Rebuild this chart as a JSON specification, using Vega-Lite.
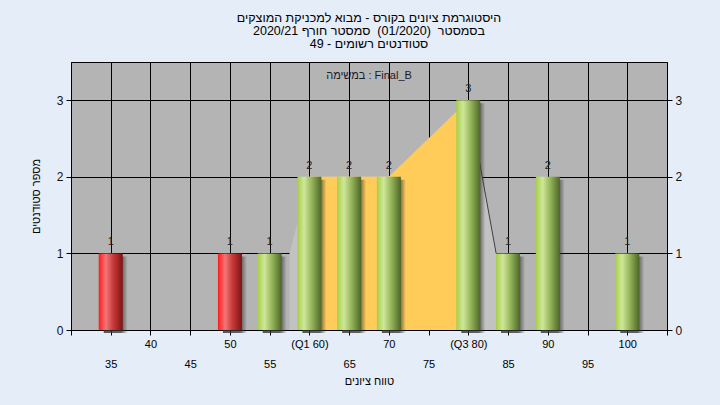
{
  "$schema": "https://vega.github.io/schema/vega-lite/v6.json",
  "width": 596,
  "height": 268,
  "autosize": {"type": "none"},
  "padding": {"left": 71, "top": 62, "right": 53, "bottom": 75},
  "background": "#e4edf8",
  "config": {
    "view": {"fill": "#b4b4b4", "stroke": "#000000", "strokeWidth": 1},
    "font": "Liberation Sans"
  },
  "title": {
    "text": ["היסטוגרמת ציונים בקורס - מבוא למכניקת המוצקים", "בסמסטר \u00a0(01/2020)\u00a0 סמסטר חורף 2020/21", "סטודנטים רשומים - 49"],
    "fontSize": 12.5,
    "fontWeight": "normal",
    "color": "#000000",
    "lineHeight": 13,
    "offset": 12,
    "anchor": "middle",
    "frame": "group"
  },
  "datasets": {
    "bars": [
      {"grade": 35, "count": 1, "result": "fail"},
      {"grade": 50, "count": 1, "result": "fail"},
      {"grade": 55, "count": 1, "result": "pass"},
      {"grade": 60, "count": 2, "result": "pass"},
      {"grade": 65, "count": 2, "result": "pass"},
      {"grade": 70, "count": 2, "result": "pass"},
      {"grade": 80, "count": 3, "result": "pass"},
      {"grade": 85, "count": 1, "result": "pass"},
      {"grade": 90, "count": 2, "result": "pass"},
      {"grade": 100, "count": 1, "result": "pass"}
    ],
    "poly": [
      {"grade": 57.5, "count": 1},
      {"grade": 60, "count": 2},
      {"grade": 65, "count": 2},
      {"grade": 70, "count": 2},
      {"grade": 80, "count": 3},
      {"grade": 83.5, "count": 1}
    ],
    "band": [
      {"grade": 60, "count": 2},
      {"grade": 65, "count": 2},
      {"grade": 70, "count": 2},
      {"grade": 80, "count": 3}
    ],
    "edge": [
      {"grade": 80, "count": 3},
      {"grade": 83.5, "count": 1}
    ],
    "note": [
      {"grade": 67.5, "count": 3.32, "label": "במשימה : Final_B"}
    ]
  },
  "layer": [
    {
      "data": {"name": "poly"},
      "mark": {"type": "area", "color": "#c2c2c2", "opacity": 1},
      "encoding": {
        "x": {
          "field": "grade", "type": "quantitative",
          "scale": {"domain": [30, 105], "nice": false, "zero": false, "padding": 0},
          "axis": {
            "orient": "bottom",
            "values": [30, 35, 40, 45, 50, 55, 60, 65, 70, 75, 80, 85, 90, 95, 100, 105],
            "grid": true, "gridColor": "#000000", "gridOpacity": 1,
            "domainColor": "#000000", "tickColor": "#000000", "tickSize": 5,
            "labelExpr": "datum.value % 10 != 0 || datum.value == 30 ? '' : datum.value == 60 ? '(Q1 60)' : datum.value == 80 ? '(Q3 80)' : datum.label",
            "labelFontSize": 11, "labelColor": "#000000", "labelPadding": 3,
            "labelFlush": false, "labelOverlap": false,
            "title": null
          }
        },
        "y": {
          "field": "count", "type": "quantitative",
          "scale": {"domain": [0, 3.5], "nice": false},
          "axis": {
            "orient": "left",
            "values": [0, 1, 2, 3],
            "grid": true, "gridColor": "#000000", "gridOpacity": 1,
            "domainColor": "#000000", "tickColor": "#000000", "tickSize": 5,
            "labelFontSize": 12, "labelColor": "#111111", "labelPadding": 3,
            "title": "מספר סטודנטים", "titleFontSize": 11, "titleFontWeight": "normal", "titleColor": "#000000", "titlePadding": 15
          }
        }
      }
    },
    {
      "data": {"name": "band"},
      "mark": {"type": "area", "color": "#ffcc5a", "opacity": 1},
      "encoding": {
        "x": {
          "field": "grade", "type": "quantitative",
          "axis": {
            "orient": "bottom",
            "values": [35, 45, 55, 65, 75, 85, 95],
            "grid": false, "ticks": false, "tickSize": 0, "domain": false,
            "labelFontSize": 11, "labelColor": "#000000", "labelPadding": 28,
            "labelFlush": false, "labelOverlap": false,
            "title": "טווח ציונים", "titleFontSize": 11, "titleFontWeight": "normal", "titleColor": "#000000", "titlePadding": 6
          }
        },
        "y": {
          "field": "count", "type": "quantitative",
          "axis": {
            "orient": "right",
            "values": [0, 1, 2, 3],
            "grid": false,
            "domainColor": "#000000", "tickColor": "#000000", "tickSize": 5,
            "labelFontSize": 12, "labelColor": "#111111", "labelPadding": 3,
            "title": null
          }
        }
      }
    },
    {
      "data": {"name": "edge"},
      "mark": {"type": "line", "color": "#404040", "strokeWidth": 1},
      "encoding": {
        "x": {"field": "grade", "type": "quantitative", "axis": null},
        "y": {"field": "count", "type": "quantitative", "axis": null}
      }
    },
    {
      "data": {"name": "bars"},
      "mark": {
        "type": "bar", "size": 24, "xOffset": 5, "yOffset": 3,
        "color": {"gradient": "linear", "x1": 0, "x2": 1, "y1": 0, "y2": 0,
          "stops": [
            {"offset": 0, "color": "rgba(50,50,50,0.8)"},
            {"offset": 0.72, "color": "rgba(50,50,50,0.75)"},
            {"offset": 1, "color": "rgba(50,50,50,0)"}
          ]}
      },
      "encoding": {
        "x": {"field": "grade", "type": "quantitative", "axis": null},
        "y": {"field": "count", "type": "quantitative", "axis": null}
      }
    },
    {
      "data": {"name": "bars"},
      "transform": [{"filter": "datum.result == 'fail'"}],
      "mark": {
        "type": "bar", "size": 24,
        "color": {"gradient": "linear", "x1": 0, "x2": 1, "y1": 0, "y2": 0,
          "stops": [
            {"offset": 0, "color": "#ff1c1c"},
            {"offset": 0.3, "color": "#f27676"},
            {"offset": 0.6, "color": "#c83a3a"},
            {"offset": 1, "color": "#801212"}
          ]}
      },
      "encoding": {
        "x": {"field": "grade", "type": "quantitative", "axis": null},
        "y": {"field": "count", "type": "quantitative", "axis": null}
      }
    },
    {
      "data": {"name": "bars"},
      "transform": [{"filter": "datum.result == 'pass'"}],
      "mark": {
        "type": "bar", "size": 24,
        "color": {"gradient": "linear", "x1": 0, "x2": 1, "y1": 0, "y2": 0,
          "stops": [
            {"offset": 0, "color": "#a6cf45"},
            {"offset": 0.28, "color": "#cfe79a"},
            {"offset": 0.6, "color": "#95b55a"},
            {"offset": 1, "color": "#4c6628"}
          ]}
      },
      "encoding": {
        "x": {"field": "grade", "type": "quantitative", "axis": null},
        "y": {"field": "count", "type": "quantitative", "axis": null}
      }
    },
    {
      "data": {"name": "bars"},
      "mark": {"type": "text", "fontSize": 11, "color": "#222222", "baseline": "bottom", "dy": -6},
      "encoding": {
        "x": {"field": "grade", "type": "quantitative", "axis": null},
        "y": {"field": "count", "type": "quantitative", "axis": null},
        "text": {"field": "count", "type": "quantitative"}
      }
    },
    {
      "data": {"name": "note"},
      "mark": {"type": "text", "fontSize": 11, "color": "#1a1a2a"},
      "encoding": {
        "x": {"field": "grade", "type": "quantitative", "axis": null},
        "y": {"field": "count", "type": "quantitative", "axis": null},
        "text": {"field": "label", "type": "nominal"}
      }
    }
  ],
  "resolve": {"axis": {"x": "independent", "y": "independent"}}
}
